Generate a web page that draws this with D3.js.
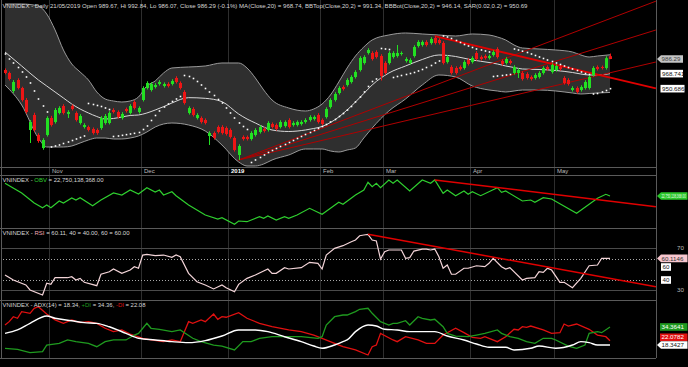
<!DOCTYPE html>
<html><head><meta charset="utf-8">
<script src="https://cdn.jsdelivr.net/npm/d3@7/dist/d3.min.js"></script>
<style>html,body{margin:0;padding:0;background:#000;overflow:hidden}svg{display:block}</style>
</head><body><svg id="c" width="688" height="367"></svg>
<script>
// ---------------- DATA ----------------
const open=[973.1,969.5,947.9,961.1,951.5,937.1,901.1,919.1,895.1,879.5,
895.1,915.5,910.7,921.5,929.9,920.3,929.9,921.5,909.5,904.7,
904.7,902.3,901.1,903.5,909.5,909.5,925.1,922.7,915.5,926.3,
921.5,934.7,922.7,937.1,951.5,949.1,952.7,956.3,953.9,956.3,
956.3,963.5,957.5,946.7,921.5,926.3,915.5,915.5,913.1,893.9,
897.5,904.7,904.7,903.5,901.1,891.5,871.1,892.7,892.7,890.3,
895.1,898.7,902.3,901.1,908.3,907.1,904.7,905.9,913.1,907.1,
907.1,908.3,910.7,913.1,914.3,919.1,913.1,916.7,928.7,937.1,
945.5,952.7,955.1,958.7,964.7,973.1,981.5,993.5,993.5,994.7,
989.9,981.5,981.5,988.7,989.9,992.3,983.9,981.5,989.9,1001.9,
1003.1,1006.7,1005.5,1011.5,1009.1,1005.5,982.7,976.7,975.5,976.7,
975.5,985.1,982.7,993.5,988.7,989.9,987.5,991.1,998.3,983.9,
981.5,983.9,969.5,969.5,969.5,968.3,964.7,963.5,964.7,969.5,
976.7,970.7,973.1,976.7,963.5,961.1,949.1,951.5,949.1,951.5,
951.5,967.1,976.7,976.7,975.5,989.67];
const high=[975.0,971.2,961.0,963.2,953.0,939.4,913.0,921.8,897.2,891.3,
917.6,918.1,927.4,929.6,932.0,924.8,931.8,923.4,920.1,909.2,
906.5,904.2,903.0,917.7,920.3,923.6,927.2,924.6,922.5,928.1,
932.1,936.8,929.4,953.6,959.6,958.4,957.3,960.9,958.2,958.4,
962.0,965.6,959.4,948.8,929.5,928.4,921.2,917.4,915.0,899.6,
899.4,906.6,906.8,905.4,903.0,893.4,884.0,894.6,894.5,899.6,
903.2,906.8,904.4,911.6,910.2,909.0,912.8,912.6,915.2,911.6,
912.6,912.8,915.2,918.8,918.6,921.2,915.0,928.4,939.2,946.4,
953.6,954.6,963.2,966.8,972.8,989.6,990.8,999.2,995.6,996.8,
992.0,983.6,995.6,995.6,1003.1,995.4,988.4,987.2,1002.8,1008.8,
1008.6,1008.8,1012.4,1013.6,1011.2,1007.6,990.8,978.8,977.6,978.6,
984.8,987.2,989.6,995.6,990.6,991.8,991.8,996.8,1000.4,985.8,
988.4,985.8,978.8,975.2,971.6,970.4,966.6,969.2,971.6,977.6,
978.6,981.0,980.0,978.6,965.6,963.2,953.6,953.4,954.8,960.8,
966.8,977.6,978.6,978.4,989.6,992.84];
const low=[967.9,960.5,945.6,949.8,935.2,920.6,885.5,899.0,885.8,877.4,
893.2,905.2,908.8,919.8,919.6,915.5,924.5,911.2,907.6,902.8,
899.3,895.6,895.4,901.4,907.5,907.8,920.9,914.8,913.6,922.0,
919.7,925.6,920.8,935.3,949.7,947.2,950.9,954.4,952.0,952.1,
954.5,956.9,949.6,931.6,919.6,917.2,913.7,908.8,907.7,883.1,
889.6,896.9,895.6,894.4,890.8,875.2,865.1,888.4,888.5,888.4,
893.2,896.8,898.0,899.2,902.8,900.4,902.9,904.0,902.8,905.2,
905.3,906.4,908.8,911.2,912.4,908.8,906.4,914.8,926.8,935.2,
943.6,948.4,953.2,956.8,962.8,971.2,979.6,991.6,984.4,986.8,
960.5,967.6,979.6,986.8,988.0,990.4,982.0,979.6,988.0,1000.0,
1001.2,1001.2,1003.6,1003.6,1003.6,979.6,980.8,967.6,967.6,972.4,
973.6,978.4,980.8,984.4,984.4,985.6,985.6,989.2,986.8,978.4,
979.6,979.6,967.6,963.5,960.4,961.6,960.4,961.6,962.8,967.6,
972.4,968.8,971.2,972.4,955.6,954.4,947.2,944.8,947.2,949.6,
949.6,965.2,972.4,973.6,973.6,986.07];
const close=[969.5,962.3,958.7,951.5,937.1,922.7,910.7,901.1,887.9,889.1,
915.5,907.1,925.1,927.5,921.5,922.7,926.3,913.1,917.9,907.1,
901.1,897.5,897.5,915.5,917.9,921.5,922.7,916.7,920.3,923.9,
929.9,927.5,927.5,951.5,957.5,956.3,955.1,958.7,956.3,953.9,
959.9,958.7,951.5,933.5,927.5,919.1,919.1,910.7,909.5,897.5,
891.5,898.7,897.5,896.3,892.7,877.1,881.9,890.3,890.3,897.5,
901.1,904.7,899.9,909.5,904.7,902.3,910.7,910.7,904.7,909.5,
910.7,910.7,913.1,916.7,916.7,910.7,908.3,926.3,937.1,944.3,
951.5,950.3,961.1,964.7,970.7,987.5,988.7,997.1,986.3,988.7,
965.9,969.5,993.5,993.5,993.5,993.5,986.3,985.1,1000.7,1006.7,
1006.7,1003.1,1010.3,1005.5,1005.5,981.5,988.7,969.5,969.5,974.3,
982.7,980.3,987.5,986.3,986.3,987.5,989.9,994.7,988.7,980.3,
986.3,981.5,976.7,973.1,962.3,963.5,962.3,967.1,969.5,975.5,
974.3,979.1,977.9,974.3,957.5,956.3,951.5,946.7,952.7,958.7,
964.7,975.5,974.3,975.5,987.3,986.29];

const sar=[992.3,986.3,981.5,976.1,970.7,964.7,957.5,947.9,938.3,929.9,
922.7,880.7,881.9,883.1,884.9,886.7,888.5,890.3,892.1,893.9,
932.9,931.7,930.5,929.3,927.5,925.7,893.3,893.9,894.7,895.5,
896.3,897.1,898.1,901.7,905.9,912.5,918.5,923.9,928.7,932.3,
935.3,938.3,941.3,966.5,965.3,962.9,959.3,955.1,950.9,946.7,
942.5,937.7,933.5,927.5,921.5,915.5,909.5,905.3,901.7,862.1,
865.1,868.1,871.1,874.1,876.5,878.9,881.3,883.7,886.1,888.5,
890.9,893.3,895.7,898.1,900.5,902.9,905.3,907.7,910.7,913.7,
917.3,920.9,925.1,929.3,934.7,940.7,946.7,953.3,959.3,962.3,
998.9,998.3,997.7,964.1,965.3,966.5,967.7,968.9,970.1,971.9,
973.7,976.1,978.5,981.5,983.9,1013.9,1012.7,1010.9,1008.5,1006.1,
1003.7,1001.9,1000.1,998.3,997.1,995.9,994.7,965.3,965.9,966.5,
967.1,967.7,998.3,997.1,995.7,994.1,992.3,990.5,988.7,986.9,
985.1,983.3,981.5,979.7,977.9,976.1,974.3,972.5,970.7,968.9,
967.7,944.3,944.9,946.7,948.5,950.69];

const monthLabels=["Nov","Dec","2019","Feb","Mar","Apr","May"];
const monthIdx=[11,33,54,76,91,112,132];

const bbIdx=[0,4,8,10,12,14,16,18,20,22,24,26,28,30,32,34,36,38,40,44,48,52,56,58,60,62,64,68,72,74,76,78,80,82,84,86,88,92,96,100,104,108,112,116,118,120,122,124,128,132,136,138,140,142,145];
const bbUpper=[1052.3,1052.3,1049.9,1040.3,1021.1,997.1,980.3,970.7,961.1,946.7,
938.3,935.9,934.7,935.9,940.7,953.9,959.9,969.5,975.5,976.7,
977.9,981.5,981.5,975.5,963.5,949.1,937.1,927.5,923.9,926.3,
932.3,943.1,958.7,975.5,989.9,1000.7,1009.1,1015.1,1017.5,1016.3,
1015.1,1013.9,1016.3,1015.1,1012.7,1009.1,1003.1,999.5,998.3,997.1,
994.7,991.1,988.7,989.9,991.34];
const bbMid=[994.7,977.9,961.1,953.9,946.7,939.5,932.3,926.3,921.5,917.3,
914.3,914.9,916.7,918.5,919.1,921.5,925.1,929.1,933.5,939.9,
939.1,935.1,920.3,914.3,909.5,904.7,901.1,899.3,901.1,902.9,
905.3,910.1,916.7,925.1,934.7,944.9,955.1,969.5,977.9,985.7,
991.1,989.3,985.1,982.1,980.3,977.9,976.1,974.3,973.7,972.5,
970.1,968.3,967.1,967.1,968.74];
const bbLower=[955.1,931.1,891.5,880.7,880.7,880.7,881.9,885.5,889.1,891.5,
891.5,890.3,890.3,891.5,893.9,898.7,904.7,908.3,909.5,907.1,
899.9,883.1,862.7,857.9,857.9,860.3,865.1,871.1,878.3,878.3,
878.3,875.9,874.7,877.1,879.5,891.5,903.5,923.9,938.3,955.1,
967.1,964.7,953.9,949.1,947.9,946.7,947.9,949.1,949.1,947.9,
945.5,944.3,944.9,945.5,946.14];

// drawn trendlines (bar index, price)
const trendFrom=[[56,865.1],[56,865.1],[56,865.1],[103,1013.6]];
const trendTo=[[156,1055.7],[156,1021.1],[156,982.7],[156,950.9]];

// OBV in billions of shares
const obvIdx=[0,4,7,9,10,11,13,14,16,17,18,21,23,26,28,30,32,34,36,37,38,40,41,44,48,51,52,55,56,58,61,62,63,65,67,68,70,73,76,78,80,81,84,86,87,88,89,90,92,93,94,97,100,102,103,105,106,108,110,111,112,114,118,119,120,124,126,127,129,131,137,142,144,145];
const obvVal=[24.02,23.05,22.05,21.58,21.85,21.58,22.25,22.05,22.55,22.35,
22.58,21.78,22.35,23.05,22.85,23.35,22.95,23.58,23.15,23.35,
22.85,23.18,22.78,21.85,20.85,20.45,20.58,19.92,20.25,20.18,
20.68,20.52,20.75,20.35,20.68,20.52,20.85,21.52,20.92,21.52,
22.12,21.92,22.85,23.35,24.12,23.68,24.02,23.58,24.35,24.02,
24.35,23.25,24.35,24.02,24.35,23.02,23.35,22.78,23.25,22.92,
23.18,22.78,23.58,23.12,23.25,22.25,22.35,22.12,22.58,22.45,
21.02,22.52,22.92,22.75];
const obvTrend=[[103,24.35],[156,21.68]];

const rsiIdx=[0,2,5,6,9,10,11,12,15,16,17,18,19,22,23,25,26,28,30,31,32,33,34,36,38,40,41,42,44,46,48,50,52,53,55,56,58,60,63,64,65,67,68,71,73,75,76,77,79,81,83,84,85,86,87,88,89,90,91,92,95,96,97,98,100,101,102,103,104,105,106,107,108,110,111,113,115,116,117,119,120,121,124,125,127,128,129,130,131,133,134,136,138,140,142,143,145];
const rsiVal=[44.3,39.5,34.8,30,25.2,36.4,35.4,41.7,41.7,42.7,
39.5,41.1,37.3,34.1,45,47.4,50,45.9,49,52.2,
50.7,63.3,64,62.7,63.3,61.1,63.3,61.7,45.9,37.9,
34.8,31,34.8,32.2,28.4,35.4,41.1,44.3,50,45.9,
45.9,51.3,50,51.3,56.4,55.4,50,63.3,69.7,72.2,
76,77.6,81.7,82.4,83,77.6,76.7,59.5,66.5,68.1,
68.1,60.2,60.8,67.1,69,69,68.1,69,61.7,50.7,
53.8,45,45,50.7,50.7,53.1,52.2,55.4,60.2,52.2,
50,51.3,39.5,41.1,41.7,47.4,46.8,50.7,49,37.3,
37.3,32.2,41.1,53.1,53.8,60.2,60.11];
const rsiTrend=[[87,83],[156,33.1]];
const rsiLevels=[70,60,40,30];

const adxIdx=[0,3,6,10,12,16,19,22,25,29,32,36,40,44,48,52,56,60,63,67,71,74,76,79,81,82,84,87,89,91,94,97,100,103,106,110,113,116,120,122,126,128,132,136,138,140,142,145];
const adxVal=[28.7,31.7,37.6,44.1,42.1,39.9,38.2,37.6,34.6,28.7,
24.3,22.8,21.3,20.4,22.2,26.3,31.7,31.7,30.2,25.7,
21.3,17.4,15.4,18.3,21.3,22.8,30.2,36.1,35.2,32.3,
31.7,30.2,30.2,30.2,26.3,22.8,19.2,16.3,16.3,13.9,
15.4,17.4,15.4,18.3,21.3,20.4,18.3,18.34];
const pdiIdx=[0,3,6,9,10,13,15,17,20,22,24,26,29,31,32,34,35,37,40,42,45,47,50,52,55,57,59,61,64,66,68,71,75,76,77,79,81,82,84,85,87,88,90,92,93,94,96,97,99,100,102,103,105,106,108,111,113,115,118,119,121,123,125,127,129,131,132,135,137,139,140,142,143,145];
const pdiVal=[15.4,14.5,11.5,12.4,18.3,19.8,22.8,21.3,19.8,16.8,
21.3,22.8,22.8,27.2,28.7,37.6,33.2,32.3,30.2,31.7,
24.3,21.3,18.3,17.4,13.9,21.3,21.3,24.3,25.7,25.7,
25.7,25.7,24.3,25.7,36.1,43.5,45,45,48,50.1,
51,46.5,39.1,36.1,37.6,37.6,39.9,36.1,43.5,42.1,
40.6,41.2,34.6,28.7,26.3,25.7,27.2,28.7,31.7,28.7,
25.7,24.3,21.3,19.8,24.3,24.3,22.8,17.4,15.4,18.3,
28.7,30.2,29.3,34.36];
const mdiIdx=[0,1,2,3,4,6,7,8,10,12,14,16,18,20,22,24,26,28,30,33,35,38,40,42,44,45,47,48,50,51,52,53,56,58,61,64,68,71,74,76,79,81,84,87,88,89,90,93,94,96,99,101,103,105,108,110,112,114,115,118,120,122,123,124,125,126,129,131,133,134,135,137,140,142,144,145];
const mdiVal=[36.1,39.1,43.5,42.1,48,46.5,51,52.4,45.9,40.6,
37.6,40.6,38.2,39.1,37.6,33.2,30.2,31.7,28.1,24.3,
22.8,21.3,22.8,21.3,39.1,37.6,40.6,39.1,45.9,41.2,
43.5,43,47.1,42.1,37.6,34.6,31.7,30.2,27.2,24.3,
19.8,16.8,13.9,9.4,16.8,18.3,28.7,22.8,21.3,25.7,
22.8,19.8,19.8,27.2,33.2,29.3,25.2,24.3,25.7,21.3,
25.7,32.3,31.7,34.6,34.1,35.2,31.7,28.7,29.3,37,
35.2,37,32.3,27.2,25.7,22.08];

// ---------------- DRAW ----------------
const FONT='"Liberation Sans", Arial, sans-serif';
const R=656;
const svg=d3.select('#c');
svg.append('rect').attr('width',688).attr('height',367).attr('fill','#000');

const x=d3.scaleLinear().domain([0,145]).range([5,610]);
const yP=d3.scaleLinear().domain([860,1050]).range([164.24,5.91]);
const yObv=d3.scaleLinear().domain([19.75,24.75]).range([226,176]);
const yRsi=d3.scaleLinear().domain([30,70]).range([290,248]);
const yAdx=d3.scaleLinear().domain([0,50]).range([365.6,309.4]);

const defs=svg.append('defs');
function mkClip(id,x0,y0,w,h){defs.append('clipPath').attr('id',id).append('rect').attr('x',x0).attr('y',y0).attr('width',w).attr('height',h);}
mkClip('cm',2,0,R-2,167);mkClip('co',2,175,R-2,53);mkClip('cr',2,228,R-2,72);mkClip('ca',2,300,R-2,58);

// vertical grid
const grid=svg.append('g');
monthIdx.forEach(m=>{
  const gx=Math.round(x(m)-2)+0.5;
  grid.append('line').attr('x1',gx).attr('x2',gx).attr('y1',0).attr('y2',358).attr('stroke','#2e2e2e').attr('stroke-width',1);
});

// ---- main panel
const gm=svg.append('g').attr('clip-path','url(#cm)');
const bb=bbIdx.map((i,k)=>({i,up:bbUpper[k],mid:bbMid[k],lo:bbLower[k]}));
gm.append('path').datum(bb).attr('fill','#2f2f2f')
  .attr('d',d3.area().x(d=>x(d.i)).y0(d=>yP(d.lo)).y1(d=>yP(d.up)).curve(d3.curveMonotoneX));
['up','lo'].forEach(k=>gm.append('path').datum(bb).attr('fill','none').attr('stroke','#9a9a9a').attr('stroke-width',1)
  .attr('d',d3.line().x(d=>x(d.i)).y(d=>yP(d[k])).curve(d3.curveMonotoneX)));
gm.append('path').datum(bb).attr('fill','none').attr('stroke','#d8d8d8').attr('stroke-width',1)
  .attr('d',d3.line().x(d=>x(d.i)).y(d=>yP(d.mid)).curve(d3.curveMonotoneX));

// trendlines
trendFrom.forEach((f,k)=>{
  const t=trendTo[k];
  gm.append('line').attr('x1',x(f[0])).attr('y1',yP(f[1])).attr('x2',x(t[0])).attr('y2',yP(t[1]))
    .attr('stroke',k===3?'#e00000':'#b00000').attr('stroke-width',k===3?1.8:1);
});

// candles
const GREEN='#22e022',RED='#ee1515';
d3.range(open.length).forEach(i=>{
  const up=close[i]>=open[i];
  const c=up?GREEN:RED;
  const cx=Math.round(x(i))+0.5;
  gm.append('line').attr('x1',cx).attr('x2',cx).attr('y1',yP(high[i])).attr('y2',yP(low[i])).attr('stroke',c).attr('stroke-width',1);
  const yt=yP(Math.max(open[i],close[i])), yb=yP(Math.min(open[i],close[i]));
  gm.append('rect').attr('x',cx-1.5).attr('y',yt).attr('width',3).attr('height',Math.max(1,yb-yt)).attr('fill',c);
});
// SAR
gm.selectAll('rect.sar').data(sar).enter().append('rect').attr('class','sar')
  .attr('x',(d,i)=>Math.round(x(i))-0.3).attr('y',d=>yP(d)-0.8).attr('width',1.6).attr('height',1.6).attr('fill','#ffffff');

// ---- OBV
const go=svg.append('g').attr('clip-path','url(#co)');
go.append('path').datum(obvIdx.map((i,k)=>[i,obvVal[k]])).attr('fill','none').attr('stroke','#2fcf2f').attr('stroke-width',1.2)
  .attr('d',d3.line().x(d=>x(d[0])).y(d=>yObv(d[1])));
go.append('line').attr('x1',x(obvTrend[0][0])).attr('y1',yObv(obvTrend[0][1])).attr('x2',x(obvTrend[1][0])).attr('y2',yObv(obvTrend[1][1]))
  .attr('stroke','#e00000').attr('stroke-width',1.5);

// ---- RSI
const gr=svg.append('g').attr('clip-path','url(#cr)');
rsiLevels.forEach(v=>{
  const solid=(v===70||v===30);
  gr.append('line').attr('x1',0).attr('x2',R).attr('y1',Math.round(yRsi(v))+0.5).attr('y2',Math.round(yRsi(v))+0.5)
    .attr('stroke',solid?'#4a4a4a':'#a8a8a8').attr('stroke-width',1).attr('stroke-dasharray',solid?null:'1,2');
});
gr.append('path').datum(rsiIdx.map((i,k)=>[i,rsiVal[k]])).attr('fill','none').attr('stroke','#f3d4d8').attr('stroke-width',1.2)
  .attr('d',d3.line().x(d=>x(d[0])).y(d=>yRsi(d[1])));
gr.append('line').attr('x1',x(rsiTrend[0][0])).attr('y1',yRsi(rsiTrend[0][1])).attr('x2',x(rsiTrend[1][0])).attr('y2',yRsi(rsiTrend[1][1]))
  .attr('stroke','#e00000').attr('stroke-width',1.5);

// ---- ADX
const ga=svg.append('g').attr('clip-path','url(#ca)');
ga.append('path').datum(mdiIdx.map((i,k)=>[i,mdiVal[k]])).attr('fill','none').attr('stroke','#e01010').attr('stroke-width',1.3)
  .attr('d',d3.line().x(d=>x(d[0])).y(d=>yAdx(d[1])));
ga.append('path').datum(pdiIdx.map((i,k)=>[i,pdiVal[k]])).attr('fill','none').attr('stroke','#1f9a1f').attr('stroke-width',1.3)
  .attr('d',d3.line().x(d=>x(d[0])).y(d=>yAdx(d[1])));
ga.append('path').datum(adxIdx.map((i,k)=>[i,adxVal[k]])).attr('fill','none').attr('stroke','#ffffff').attr('stroke-width',1.4)
  .attr('d',d3.line().x(d=>x(d[0])).y(d=>yAdx(d[1])).curve(d3.curveMonotoneX));

// ---- frame lines
const fr=svg.append('g').attr('stroke','#5a5a5a').attr('stroke-width',1);
[167,175,228,300,358].forEach(y=>fr.append('line').attr('x1',0).attr('x2',R).attr('y1',y+0.5).attr('y2',y+0.5));
fr.append('line').attr('x1',R+0.5).attr('x2',R+0.5).attr('y1',0).attr('y2',358);
fr.append('line').attr('x1',1.5).attr('x2',1.5).attr('y1',0).attr('y2',358);

// ---- time axis labels
monthLabels.forEach((t,k)=>{
  const gx=Math.round(x(monthIdx[k])-2)+0.5;
  svg.append('text').attr('x',gx+2.5).attr('y',173).attr('font-family',FONT).attr('font-size',6)
    .attr('font-weight',t==='2019'?'bold':'normal').attr('fill',t==='2019'?'#ffffff':'#bdbdbd').text(t);
});

// ---- titles
function title(y,parts,len){
  const t=svg.append('text').attr('x',2.5).attr('y',y).attr('font-family',FONT).attr('font-size',6)
    .attr('textLength',len).attr('lengthAdjust','spacingAndGlyphs');
  parts.forEach(p=>t.append('tspan').attr('fill',p[1]).text(p[0]));
}
const TC='#d6d6d6';
title(7.5,[["VNINDEX - Daily 21/05/2019 Open 989.67, Hi 992.84, Lo 986.07, Close 986.29 (-0.1%) MA(Close,20) = 968.74, BBTop(Close,20,2) = 991.34, BBBot(Close,20,2) = 946.14, SAR(0.02,0.2) = 950.69",TC]],525);
title(182,[["VNINDEX - ",TC],["OBV","#2fcf2f"],[" = 22,750,138,368.00",TC]],101);
title(234.5,[["VNINDEX - ",TC],["RSI","#f0a8b4"],[" = 60.11, 40 = 40.00, 60 = 60.00",TC]],127);
title(306.5,[["VNINDEX - ADX(14) = 18.34, ",TC],["+DI","#1f9a1f"],[" = 34.36, ",TC],["-DI","#e01010"],[" = 22.08",TC]],143);

// ---- right tags
function tag(yc,txt,fill,tcol,x0,w,arrow,sx,fs){
  const g=svg.append('g');
  if(arrow){
    g.append('path').attr('d',`M${x0},${yc} L${x0+4},${yc-3.8} L${x0+w},${yc-3.8} L${x0+w},${yc+3.8} L${x0+4},${yc+3.8} Z`).attr('fill',fill);
  } else {
    g.append('rect').attr('x',x0).attr('y',yc-3.8).attr('width',w).attr('height',7.6).attr('fill',fill);
  }
  const tx=x0+(arrow?4.5:1.5), ty=yc+2.2;
  g.append('text').attr('transform',`translate(${tx},${ty}) scale(${sx||1},1)`)
    .attr('font-family',FONT).attr('font-size',fs||6.2).attr('fill',tcol).text(txt);
}
tag(yP(986.29),'986.29','#c4c4c4','#404040',657,26,true);
tag(yP(968.741),'968.741','#ffffff','#111',660.5,22.5,false);
tag(yP(950.686),'950.686','#ffffff','#111',660.5,24,false);
tag(yObv(22.75),'22,750,138,368.00','#29c629','#e8ffe8',657,30.5,true,0.54,5.4);
tag(yRsi(60.1146),'60.1146','#f7c6ce','#333',657,30.5,true);
tag(267,'60','#ffffff','#111',661,10,false);
tag(280,'40','#ffffff','#111',661,10,false);
svg.append('text').attr('x',677).attr('y',yRsi(70)+2.2).attr('font-family',FONT).attr('font-size',6.2).attr('fill','#bbb').text('70');
svg.append('text').attr('x',677).attr('y',yRsi(30)+2.2).attr('font-family',FONT).attr('font-size',6.2).attr('fill','#bbb').text('30');
tag(yAdx(34.3641),'34.3641','#1f9a1f','#ffffff',660,27.5,false);
tag(yAdx(22.0782)-3.5,'22.0782','#e01010','#ffffff',660,27.5,false);
tag(yAdx(18.3427),'18.3427','#ffffff','#111',657,30.5,true);
</script></body></html>
